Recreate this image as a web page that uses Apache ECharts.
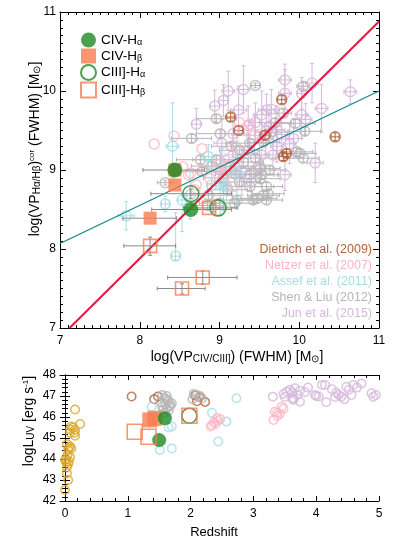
<!DOCTYPE html>
<html><head><meta charset="utf-8">
<script src="https://cdn.jsdelivr.net/npm/echarts@6/dist/echarts.min.js"></script>
<style>html,body{margin:0;padding:0;background:#fff}#c{width:399px;height:548px}</style>
</head><body><div id="c"></div>
<script>
// ---------- TOP PANEL DATA: [x, y, ex, eyLo, eyHi] ----------
const junTop = [
 [10.64,9.99,0.08,0.15],[10.28,9.78,0.08,0.30],[10.16,10.10,0.08,0.25],[10.03,9.97,0.06,0.20],
 [9.82,10.14,0.08,0.20],[9.82,9.97,0.08,0.30],[9.30,10.02,0.08,0.30],[9.11,10.00,0.08,0.25],
 [9.05,9.88,0.06,0.20],[8.94,9.81,0.06,0.20],[9.24,9.76,0.10,0.30],[9.65,9.77,0.10,0.25],
 [10.03,9.70,0.08,0.30],[10.08,9.64,0.08,0.20],[8.71,9.58,0.06,0.20],[9.53,9.70,0.10,0.30],
 [9.59,9.76,0.10,0.20],[9.17,9.46,0.10,0.30],[9.03,9.34,0.10,0.30],[9.93,9.40,0.10,0.25],
 [9.72,9.51,0.10,0.30],[10.20,9.09,0.10,0.25],[9.82,8.94,0.08,0.20],[9.53,9.19,0.10,0.30],
 [9.67,9.19,0.10,0.20],[9.17,9.19,0.10,0.25],[9.02,9.00,0.10,0.20],[9.40,8.85,0.10,0.20],
 [9.28,8.98,0.10,0.30],[9.45,9.60,0.08,0.25],[9.62,9.55,0.08,0.20],[9.36,9.56,0.08,0.25],
 [9.78,9.45,0.08,0.20],[9.88,9.33,0.08,0.25],[9.50,9.05,0.08,0.20],[9.36,9.25,0.08,0.25],
 [9.72,9.30,0.08,0.20],[9.58,9.40,0.10,0.20],[9.44,9.44,0.10,0.25]
];
const shenTop = [
 [9.45,10.07,0.05,0.03],[10.05,10.06,0.08,0.05],[9.80,9.72,0.10,0.05],[8.96,9.65,0.25,0.05],
 [8.65,9.40,0.25,0.05],[9.01,9.46,0.30,0.05],[9.95,9.59,0.25,0.05],[10.07,9.49,0.20,0.05],
 [10.01,9.21,0.20,0.05],[10.05,9.15,0.20,0.05],[9.97,9.23,0.20,0.05],[9.38,9.34,0.30,0.05],
 [8.96,9.13,0.30,0.05],[9.13,9.04,0.30,0.05],[9.38,8.94,0.30,0.05],[9.51,8.89,0.25,0.05],
 [9.59,8.79,0.20,0.05],[9.61,8.70,0.20,0.05],[9.59,8.62,0.20,0.05],[9.47,8.64,0.25,0.05],
 [9.22,8.62,0.30,0.05],[9.38,8.79,0.30,0.05],[8.86,8.68,0.30,0.05],[9.51,9.02,0.25,0.05],
 [9.63,9.00,0.20,0.05],[8.76,9.13,0.30,0.05],[8.32,8.84,0.10,0.03],[8.78,8.98,0.30,0.05],
 [9.10,8.75,0.25,0.05],[9.25,8.85,0.25,0.05],[9.05,8.90,0.25,0.05],[9.55,8.68,0.20,0.05],
 [9.42,8.62,0.20,0.05],[9.19,8.58,0.25,0.05],[9.00,8.58,0.25,0.05],[8.85,8.55,0.20,0.05],
 [9.25,9.25,0.25,0.05],[9.55,9.35,0.20,0.05],[9.70,9.60,0.20,0.05],[9.65,9.48,0.20,0.05],
 [9.15,9.30,0.25,0.05],[8.90,9.05,0.25,0.05],[9.30,9.10,0.25,0.05],[9.45,9.15,0.25,0.05],
 [9.20,8.95,0.25,0.05],[9.53,8.94,0.20,0.05]
];
const assefTop = [
 [8.41,9.30,0.08,0.40,0.55],[8.86,9.17,0.08,0.15,0.15],[9.22,8.96,0.06,0.45,0.45],
 [9.05,8.83,0.06,0.35,0.35],[7.83,8.42,0.10,0.18,0.18],[8.32,8.57,0.05,0.10,0.10],
 [8.45,7.91,0.05,0.05,0.55],[8.63,8.68,0.05,0.30,0.30],[9.01,8.83,0.05,0.40,0.40],
 [8.90,8.81,0.05,0.20,0.20],[9.09,8.79,0.05,0.25,0.25],[8.53,8.62,0.05,0.40,0.10]
];
const netzerTop = [
 [8.18,9.33],[8.43,9.43],[8.78,9.27],[8.64,8.96],[8.54,9.04],[8.88,8.89],[9.01,9.08],
 [9.38,9.58],[9.17,8.79],[8.69,8.75],[8.61,8.94],[8.96,9.02],[9.11,9.06],[9.07,8.94],
 [8.71,8.81],[9.30,9.50],[9.20,9.30],[8.80,9.00],[9.50,9.45],[9.25,9.60]
];
const dietTop = [
 [9.78,9.89,0.05,0.05],[9.14,9.67,0.05,0.05],[9.24,9.50,0.05,0.05],[9.57,9.44,0.05,0.06],
 [9.84,9.21,0.05,0.05],[9.80,9.17,0.05,0.05],[10.45,9.42,0.05,0.05]
];
// our objects, top panel: [x, y]
const civHaTop = [[8.44,9.00],[8.64,8.50]];
const civHbTop = [[8.44,9.00],[8.44,8.81],[8.13,8.39]];
const ciiiHaTop = [[8.64,8.70],[8.98,8.52]];
const ciiiHbTop = [[8.87,8.52],[8.13,8.04],[8.79,7.64],[8.53,7.50]];
// our error bars: [x, y, xlo, xhi, ylo, yhi]
const ourErr = [
 [8.44,9.00,8.04,8.81,8.93,9.07],[8.64,8.70,8.14,9.15,8.64,8.76],[8.64,8.50,8.15,9.15,8.50,8.50],
 [8.92,8.52,8.55,9.22,8.47,8.57],[8.13,8.04,7.80,8.45,7.92,8.15],[8.79,7.64,8.35,9.22,7.55,7.72],
 [8.53,7.50,8.22,8.82,7.43,7.56],[8.13,8.39,7.79,8.46,8.39,8.39]
];
// relations
const redLine = [[7.12,7.0],[11,10.88]];
const tealLine = [[7,8.07],[11,10.0]];

// ---------- BOTTOM PANEL DATA: [z, logL] ----------
const localBot = [
 [0.16,46.36],[0.24,45.67],[0.08,45.41],[0.16,45.38],[0.16,45.11],[0.13,45.50],[0.10,45.55],
 [0.08,45.25],[0.15,45.25],[0.08,44.59],[0.05,44.43],[0.03,44.70],[0.06,44.52],[0.08,44.08],
 [0.00,43.95],[0.05,43.76],[0.02,43.85],[0.06,43.88],[0.03,43.60],[0.03,43.32],[0.05,43.00],
 [0.00,42.52],[0.04,44.20],[0.02,44.00],[0.10,44.50]
];
const dietBot = [[1.06,46.98],[1.48,46.98],[2.07,47.02],[2.14,46.95],[2.23,46.72],[2.10,46.75],[1.42,46.85]];
const shenBot = [
 [1.55,47.05],[1.62,47.00],[1.58,46.90],[1.65,46.75],[1.60,46.60],[1.68,46.55],[1.55,46.50],
 [1.62,46.40],[1.70,46.65],[1.52,46.70],[1.65,46.30],[1.58,46.20],[1.62,46.85],[1.56,46.35],
 [1.66,46.50],[2.05,47.10],[2.10,47.05],[2.15,47.00],[2.03,46.85],[2.18,46.88]
];
const assefBot = [
 [1.38,46.49],[1.51,44.43],[1.70,44.50],[1.70,45.55],[1.65,45.50],[2.34,46.20],[2.44,44.83],
 [2.57,45.78],[2.73,46.89],[3.64,46.89],[1.45,46.00]
];
const netzerBot = [
 [2.34,45.62],[2.37,45.75],[2.43,45.80],[2.47,45.90],[2.40,45.68],[2.42,45.95],[2.32,45.55],
 [3.32,45.86],[3.34,46.25],[3.38,46.20],[3.42,46.15],[3.45,46.49],[3.48,46.40],[3.38,46.05]
];
const junBot = [
 [3.31,46.97],[3.48,47.10],[3.53,47.20],[3.58,47.29],[3.66,47.37],[3.74,47.25],[3.50,46.95],
 [3.74,46.73],[3.64,46.81],[3.62,47.15],[3.87,47.40],[3.82,47.18],[3.98,47.05],[4.00,47.00],
 [4.04,46.98],[4.09,47.52],[4.14,47.52],[4.16,46.70],[4.25,47.32],[4.32,47.16],[4.36,47.05],
 [4.40,46.97],[4.45,46.85],[4.48,47.44],[4.52,47.30],[4.56,47.05],[4.59,47.52],[4.65,47.40],
 [4.72,47.60],[4.88,47.13],[4.91,46.97],[4.95,47.05],[3.62,46.88],[3.70,47.05],[4.30,46.95]
];
const civHaBot = [[1.59,45.94],[1.50,44.90]];
const civHbBot = [[1.35,45.86],[1.43,45.94]];
const ciiiHaBot = [[1.98,46.06]];
const ciiiHbBot = [[1.11,45.30],[1.33,45.06],[1.98,46.06]];

// ticks / labels
const zTicks = [0,1,2,3,4,5];
const zMinor = []; for (let v = 0; v <= 5.001; v += 0.2) zMinor.push(+v.toFixed(1));
const legendNames = ['CIV-Hα','CIV-Hβ','CIII]-Hα','CIII]-Hβ'];
const sampleLabels = ['Dietrich et al. (2009)','Netzer et al. (2007)','Assef et al. (2011)','Shen & Liu (2012)','Jun et al. (2015)'];

const C = {
  green:'#1e8a23', orange:'#f97c4f', diet:'#b0643a', netzer:'#ffb6c3',
  assef:'#a7dce6', shen:'#b5b5b5', jun:'#d6b8dd', local:'#dca62a'
};
const sampleColors = [C.diet, C.netzer, C.assef, C.shen, C.jun];
const FONT = 'Liberation Sans';

function errSeries(data, xi, yi, color, abs, z) {
  return {
    type:'custom', xAxisIndex:xi, yAxisIndex:yi, silent:true, z:z||2,
    renderItem(params, api){
      const x = api.value(0), y = api.value(1);
      let xl, xh, yl, yh;
      if (abs) { xl=api.value(2); xh=api.value(3); yl=api.value(4); yh=api.value(5); }
      else {
        const ex=api.value(2), el=api.value(3);
        let eh = api.value(4); if (eh==null || isNaN(eh)) eh = el;
        xl=x-ex; xh=x+ex; yl=y-el; yh=y+eh;
      }
      const st = {stroke:color, lineWidth:1};
      const ch = [];
      const a=api.coord([xl,y]), b=api.coord([xh,y]);
      if (b[0]-a[0] > 1) {
        ch.push({type:'line', shape:{x1:a[0],y1:a[1],x2:b[0],y2:b[1]}, style:st});
        ch.push({type:'line', shape:{x1:a[0],y1:a[1]-2,x2:a[0],y2:a[1]+2}, style:st});
        ch.push({type:'line', shape:{x1:b[0],y1:b[1]-2,x2:b[0],y2:b[1]+2}, style:st});
      }
      const c=api.coord([x,yl]), d=api.coord([x,yh]);
      if (c[1]-d[1] > 1) {
        ch.push({type:'line', shape:{x1:c[0],y1:c[1],x2:d[0],y2:d[1]}, style:st});
        ch.push({type:'line', shape:{x1:c[0]-2,y1:c[1],x2:c[0]+2,y2:c[1]}, style:st});
        ch.push({type:'line', shape:{x1:d[0]-2,y1:d[1],x2:d[0]+2,y2:d[1]}, style:st});
      }
      return {type:'group', children:ch};
    },
    data
  };
}
function circles(name, data, xi, yi, color, size, z) {
  return {type:'scatter', name, xAxisIndex:xi, yAxisIndex:yi, symbol:'circle', symbolSize:size,
    itemStyle:{color:'rgba(0,0,0,0)', borderColor:color, borderWidth:1.5}, z:z||3, silent:true,
    data: data.map(d=>[d[0],d[1]])};
}
function ours(name, data, xi, yi, kind, size) {
  const filled = kind==='fc' || kind==='fs';
  const color = (kind==='fc'||kind==='oc') ? C.green : C.orange;
  return {type:'scatter', name, xAxisIndex:xi, yAxisIndex:yi,
    symbol:(kind==='fc'||kind==='oc')?'circle':'rect', symbolSize:size,
    itemStyle: filled ? {color, borderColor:color, borderWidth:0}
                      : {color:'rgba(255,255,255,0)', borderColor:color, borderWidth:1.6},
    z:6, silent:true, data};
}
const axLine = {show:true, lineStyle:{color:'#000', width:1}};
function xAx(grid, pos, labels, extra) {
  return Object.assign({
    type:'value', gridIndex:grid, position:pos, axisLine:axLine,
    axisTick:{show:true, inside:true, length:6, lineStyle:{color:'#000'}},
    minorTick:{show:true, splitNumber:10, length:3, lineStyle:{color:'#000'}},
    splitLine:{show:false}, minorSplitLine:{show:false},
    axisLabel:{show:labels, color:'#000', fontSize:12, fontFamily:FONT, margin:7}
  }, extra);
}
const nameRich = {
  n:{fontSize:14, fontFamily:FONT, fill:'#000', lineHeight:15},
  s:{fontSize:10, fontFamily:FONT, fill:'#000', lineHeight:10, padding:[8,0,0,0], verticalAlign:'bottom'},
  u:{fontSize:8, fontFamily:FONT, fill:'#000', lineHeight:8, padding:[0,0,9,0], verticalAlign:'top'}
};
function nameText(text, x, y, rot, size) {
  return {type:'text', x, y, rotation:rot, silent:true, z:10,
    style:{text, rich:nameRich, fontSize:size||14, fontFamily:FONT, fill:'#000', align:'center', verticalAlign:'middle'}};
}

const graphics = [
  nameText('{n|log(VP}{s|Hα/Hβ}{n|)}{u|cor}{n| (FWHM) [M}{s|⊙}{n|]}', 35, 149, Math.PI/2),
  nameText('{n|log(VP}{s|CIV/CIII]}{n|) (FWHM) [M}{s|⊙}{n|]}', 237, 357, 0),
  nameText('{n|logL}{s|UV}{n| [erg s}{u|-1}{n|]}', 29, 421, Math.PI/2),
  {type:'text', x:214, y:532, silent:true,
    style:{text:'Redshift', fontSize:13, fontFamily:FONT, fill:'#000', align:'center', verticalAlign:'middle'}}
];
sampleLabels.forEach((t,i)=>graphics.push(
  {type:'text', right:27, top:243+16*i, silent:true,
   style:{text:t, fill:sampleColors[i], fontSize:12.5, fontFamily:FONT}}));

const option = {
  animation:false, backgroundColor:'#fff',
  grid:[
    {left:60, top:12, width:319, height:316},
    {left:60, top:375, width:319, height:126}
  ],
  xAxis:[
    xAx(0,'bottom',true,{min:7,max:11,interval:1}),
    xAx(0,'top',false,{min:7,max:11,interval:1}),
    xAx(1,'bottom',true,{min:-0.08,max:5,
      axisTick:{show:true, inside:true, length:5, customValues:zTicks, lineStyle:{color:'#000'}},
      axisLabel:{show:true, customValues:zTicks, color:'#000', fontSize:12, fontFamily:FONT, margin:7},
      minorTick:{show:false}}),
    xAx(1,'top',false,{min:-0.08,max:5,
      axisTick:{show:true, inside:true, length:5, customValues:zTicks, lineStyle:{color:'#000'}},
      minorTick:{show:false}}),
    xAx(1,'bottom',false,{min:-0.08,max:5, axisLine:{show:false},
      axisTick:{show:true, inside:true, length:3, customValues:zMinor, lineStyle:{color:'#000'}},
      minorTick:{show:false}}),
    xAx(1,'top',false,{min:-0.08,max:5, axisLine:{show:false},
      axisTick:{show:true, inside:true, length:3, customValues:zMinor, lineStyle:{color:'#000'}},
      minorTick:{show:false}})
  ],
  yAxis:[
    xAx(0,'left',true,{min:7,max:11,interval:1,
      axisLabel:{show:true, color:'#000', fontSize:12, fontFamily:FONT, margin:4}}),
    xAx(0,'right',false,{min:7,max:11,interval:1}),
    xAx(1,'left',true,{min:42,max:48,interval:1, minorTick:{show:true, splitNumber:5, length:3, lineStyle:{color:'#000'}},
      axisTick:{show:true, inside:true, length:5, lineStyle:{color:'#000'}},
      axisLabel:{show:true, color:'#000', fontSize:12, fontFamily:FONT, margin:4}}),
    xAx(1,'right',false,{min:42,max:48,interval:1, minorTick:{show:true, splitNumber:5, length:3, lineStyle:{color:'#000'}},
      axisTick:{show:true, inside:true, length:5, lineStyle:{color:'#000'}}})
  ],
  legend:{
    show:true, orient:'vertical', left:75, top:27, itemWidth:15, itemHeight:15, itemGap:0.5,
    data:legendNames,
    formatter: n => {
      const i = n.lastIndexOf('H');
      return '{a|' + n.slice(0,i+1) + '}{b|' + n.slice(i+1) + '}';
    },
    textStyle:{rich:{
      a:{fontSize:13.5, fontFamily:FONT, color:'#000', lineHeight:14},
      b:{fontSize:9, fontFamily:FONT, color:'#000', lineHeight:8, padding:[6,0,0,0], verticalAlign:'bottom'}
    }},
    selectedMode:false
  },
  graphic:graphics,
  series:[
    // top panel literature
    errSeries(junTop,0,0,C.jun,false,2),
    circles('Jun',junTop,0,0,C.jun,10,3),
    errSeries(shenTop,0,0,C.shen,false,2),
    circles('Shen',shenTop,0,0,C.shen,10,3),
    errSeries(assefTop,0,0,C.assef,false,2),
    circles('Assef',assefTop,0,0,C.assef,10,3),
    circles('Netzer',netzerTop,0,0,C.netzer,10,3),
    errSeries(dietTop,0,0,C.diet,false,3),
    circles('Dietrich',dietTop,0,0,C.diet,10,3),
    {type:'line', xAxisIndex:0, yAxisIndex:0, data:tealLine, symbol:'none', silent:true, z:4,
      lineStyle:{color:'#0e8a8c', width:1.3}},
    {type:'line', xAxisIndex:0, yAxisIndex:0, data:redLine, symbol:'none', silent:true, z:4,
      lineStyle:{color:'#e2183e', width:2}},
    errSeries(ourErr,0,0,'#8a8a8a',true,5),
    ours('CIV-Hβ',civHbTop,0,0,'fs',13),
    ours('CIV-Hα',civHaTop,0,0,'fc',15),
    ours('CIII]-Hα',ciiiHaTop,0,0,'oc',16),
    ours('CIII]-Hβ',ciiiHbTop,0,0,'os',13),
    // bottom panel
    circles('local',localBot,2,2,C.local,8.5,3),
    circles('Dietrich',dietBot,2,2,C.diet,8.5,3),
    circles('Shen',shenBot,2,2,C.shen,8.5,3),
    circles('Assef',assefBot,2,2,C.assef,8.5,3),
    circles('Netzer',netzerBot,2,2,C.netzer,8.5,3),
    circles('Jun',junBot,2,2,C.jun,8.5,3),
    ours('CIV-Hβ',civHbBot,2,2,'fs',15),
    ours('CIV-Hα',civHaBot,2,2,'fc',14),
    ours('CIII]-Hα',ciiiHaBot,2,2,'oc',15),
    ours('CIII]-Hβ',ciiiHbBot,2,2,'os',15)
  ]
};
const chart = echarts.init(document.getElementById('c'), null, {renderer:'canvas'});
chart.setOption(option);
</script>
</body></html>
